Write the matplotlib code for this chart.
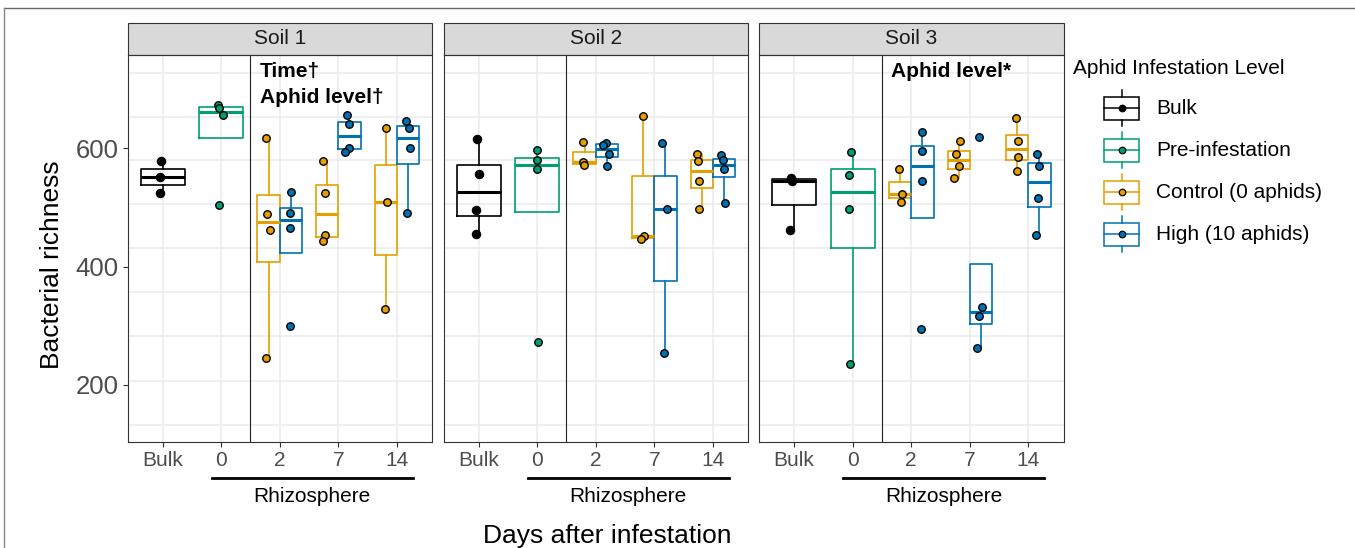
import matplotlib
matplotlib.use('Agg')
import matplotlib.pyplot as plt
import matplotlib.transforms as mtransforms
from matplotlib.patches import Rectangle
import numpy as np

plt.rcParams['font.family'] = ['Liberation Sans', 'DejaVu Sans']

soils = ['Soil 1', 'Soil 2', 'Soil 3']
tick_labels = ['Bulk', '0', '2', '7', '14']
levels = ['Bulk', 'Pre-infestation', 'Control (0 aphids)', 'High (10 aphids)']
colors = ['#000000', '#009E73', '#E69F00', '#0072B2']
notes = [['Time\u2020', 'Aphid level\u2020'], [], ['Aphid level*']]

# bacterial richness per soil
bulk = [[579, 551, 525], [616, 557, 495, 455], [550, 545, 462]]
pre = [[674, 668, 656, 504], [597, 580, 565, 273], [593, 555, 498, 235]]
control_d2 = [[617, 489, 462, 245], [611, 577, 571], [565, 522, 510]]
high_d2 = [[526, 491, 465, 300], [609, 606, 590, 570], [628, 595, 545, 295]]
control_d7 = [[579, 524, 453, 443], [655, 451, 446], [612, 590, 570, 549]]
high_d7 = [[657, 641, 600, 593], [609, 498, 254], [619, 332, 316, 262]]
control_d14 = [[634, 510, 329], [590, 578, 544, 498], [651, 613, 586, 561]]
high_d14 = [[647, 635, 601, 491], [588, 580, 565, 508], [590, 570, 516, 453]]

# horizontal jitter of the points (x units)
jit_bulk = [[-0.02, -0.05, -0.04], [-0.02, 0, -0.05, -0.04], [-0.045, -0.03, -0.07]]
jit_pre = [[-0.05, -0.03, 0.03, -0.03], [0, 0, 0, 0.02], [-0.03, -0.07, -0.07, -0.04]]
jit_c2 = [[-0.05, -0.02, 0.02, -0.05], [-0.035, -0.02, -0.01], [-0.015, 0.03, 0.01]]
jit_h2 = [[0, -0.01, -0.01, -0.01], [-0.02, -0.07, 0.03, 0.01], [0, 0, 0, -0.02]]
jit_c7 = [[-0.07, -0.03, -0.03, -0.07], [0, 0.02, -0.03], [0.02, -0.04, 0, -0.08]]
jit_h7 = [[-0.035, 0, 0, -0.07], [-0.065, 0.03, -0.02], [-0.03, 0.02, -0.04, -0.06]]
jit_c14 = [[0.01, 0.03, -0.01], [-0.08, -0.07, -0.05, -0.05], [-0.02, 0.02, 0.02, 0]]
jit_h14 = [[-0.04, 0.01, 0.03, -0.02], [-0.05, -0.01, 0, 0.01], [-0.05, 0, -0.03, -0.06]]

grid_y = [132, 207, 282, 357, 432, 506, 580, 653, 728]

W, H = 1355, 548
fig = plt.figure(figsize=(W / 100, H / 100), dpi=100)
fig.patch.set_facecolor('white')

lefts = [127.5, 443.5, 759]
pw, top, bot = 304.5, 55, 441.5
ph = bot - top

for k in range(3):
    ax = fig.add_axes([lefts[k] / W, (H - bot) / H, pw / W, ph / H])
    ax.set_xlim(0.4, 5.6)
    ax.set_ylim(104.5, 757.7)
    for g in grid_y:
        ax.axhline(g, color='#EBEBEB', lw=1.1, zorder=0)
    for xv in range(1, 6):
        ax.axvline(xv, color='#EBEBEB', lw=1.1, zorder=0)
    ax.axvline(2.5, color='#222222', lw=0.8, zorder=1)

    groups = [
        (1, 0.75, colors[0], bulk[k], jit_bulk[k]),
        (2, 0.75, colors[1], pre[k], jit_pre[k]),
        (2.81, 0.38, colors[2], control_d2[k], jit_c2[k]),
        (3.19, 0.38, colors[3], high_d2[k], jit_h2[k]),
        (3.81, 0.38, colors[2], control_d7[k], jit_c7[k]),
        (4.19, 0.38, colors[3], high_d7[k], jit_h7[k]),
        (4.81, 0.38, colors[2], control_d14[k], jit_c14[k]),
        (5.19, 0.38, colors[3], high_d14[k], jit_h14[k]),
    ]
    for pos, w, c, vals, jit in groups:
        ax.boxplot([vals], positions=[pos], widths=[w], whis=1.5,
                   showfliers=False, showcaps=False, manage_ticks=False,
                   boxprops=dict(color=c, lw=1.2),
                   whiskerprops=dict(color=c, lw=1.2),
                   medianprops=dict(color=c, lw=2.2))
        ax.scatter(pos + np.array(jit), vals, s=34 if c == '#000000' else 29,
                   facecolor=c, edgecolor='black', linewidths=1.0, zorder=3)

    ax.set_xticks(range(1, 6))
    ax.set_xticklabels(tick_labels)
    ax.tick_params(axis='x', length=3.5, width=0.8, color='#333333',
                   labelsize=15, labelcolor='#4D4D4D', pad=3.5)
    if k == 0:
        ax.set_yticks([200, 400, 600])
        ax.tick_params(axis='y', length=3.5, width=0.8, color='#333333',
                       labelsize=18.5, labelcolor='#4D4D4D', pad=3)
    else:
        ax.set_yticks([])
    for s in ax.spines.values():
        s.set_color('#333333')
        s.set_linewidth(0.8)

    # facet strip
    sh = 32 / ph
    ax.add_patch(Rectangle((0, 1), 1, sh, transform=ax.transAxes,
                           facecolor='#D9D9D9', edgecolor='#333333', lw=0.8,
                           clip_on=False))
    ax.text(0.5, 1 + sh / 2, soils[k], transform=ax.transAxes, ha='center',
            va='center', fontsize=15, color='#1A1A1A')

    # rhizosphere bracket
    tr = mtransforms.blended_transform_factory(ax.transData, ax.transAxes)
    ax.plot([1.84, 5.27], [-36.5 / ph, -36.5 / ph], color='black', lw=2,
            transform=tr, clip_on=False)
    ax.text(3.555, -55.5 / ph, 'Rhizosphere', transform=tr, ha='center',
            va='center', fontsize=15, color='black')

    for i, t in enumerate(notes[k]):
        ax.text(2.66, 720 - i * 44, t, fontsize=15, fontweight='bold',
                ha='left', va='baseline')

fig.text(52.5 / W, 1 - 265 / H, 'Bacterial richness', rotation=90,
         ha='center', va='center', fontsize=19)
fig.text(607 / W, 1 - 536 / H, 'Days after infestation', ha='center',
         va='center', fontsize=19)

# legend and figure frame, drawn in pixel space
lax = fig.add_axes([0, 0, 1, 1])
lax.set_xlim(0, W)
lax.set_ylim(H, 0)
lax.axis('off')
lax.patch.set_alpha(0)
lax.plot([4, W], [8, 8], color='#666666', lw=1)
lax.plot([4, 4], [8, H], color='#888888', lw=1)
lax.text(1073, 69, 'Aphid Infestation Level', fontsize=15, ha='left',
         va='center')
for i, (lab, c) in enumerate(zip(levels, colors)):
    cy = 108 + i * 42
    lax.add_patch(Rectangle((1104, cy - 11.5), 35, 23, facecolor='white',
                            edgecolor=c, lw=1.1))
    lax.plot([1121.5, 1121.5], [cy - 18, cy - 11.5], color=c, lw=1.1)
    lax.plot([1121.5, 1121.5], [cy + 11.5, cy + 18], color=c, lw=1.1)
    lax.plot([1104, 1139], [cy, cy], color=c, lw=1.1)
    lax.scatter([1121.5], [cy], s=22, facecolor=c, edgecolor='black',
                linewidths=0.9, zorder=3)
    lax.text(1156, cy, lab, fontsize=15, ha='left', va='center')

fig.savefig('out.png', dpi=100)
